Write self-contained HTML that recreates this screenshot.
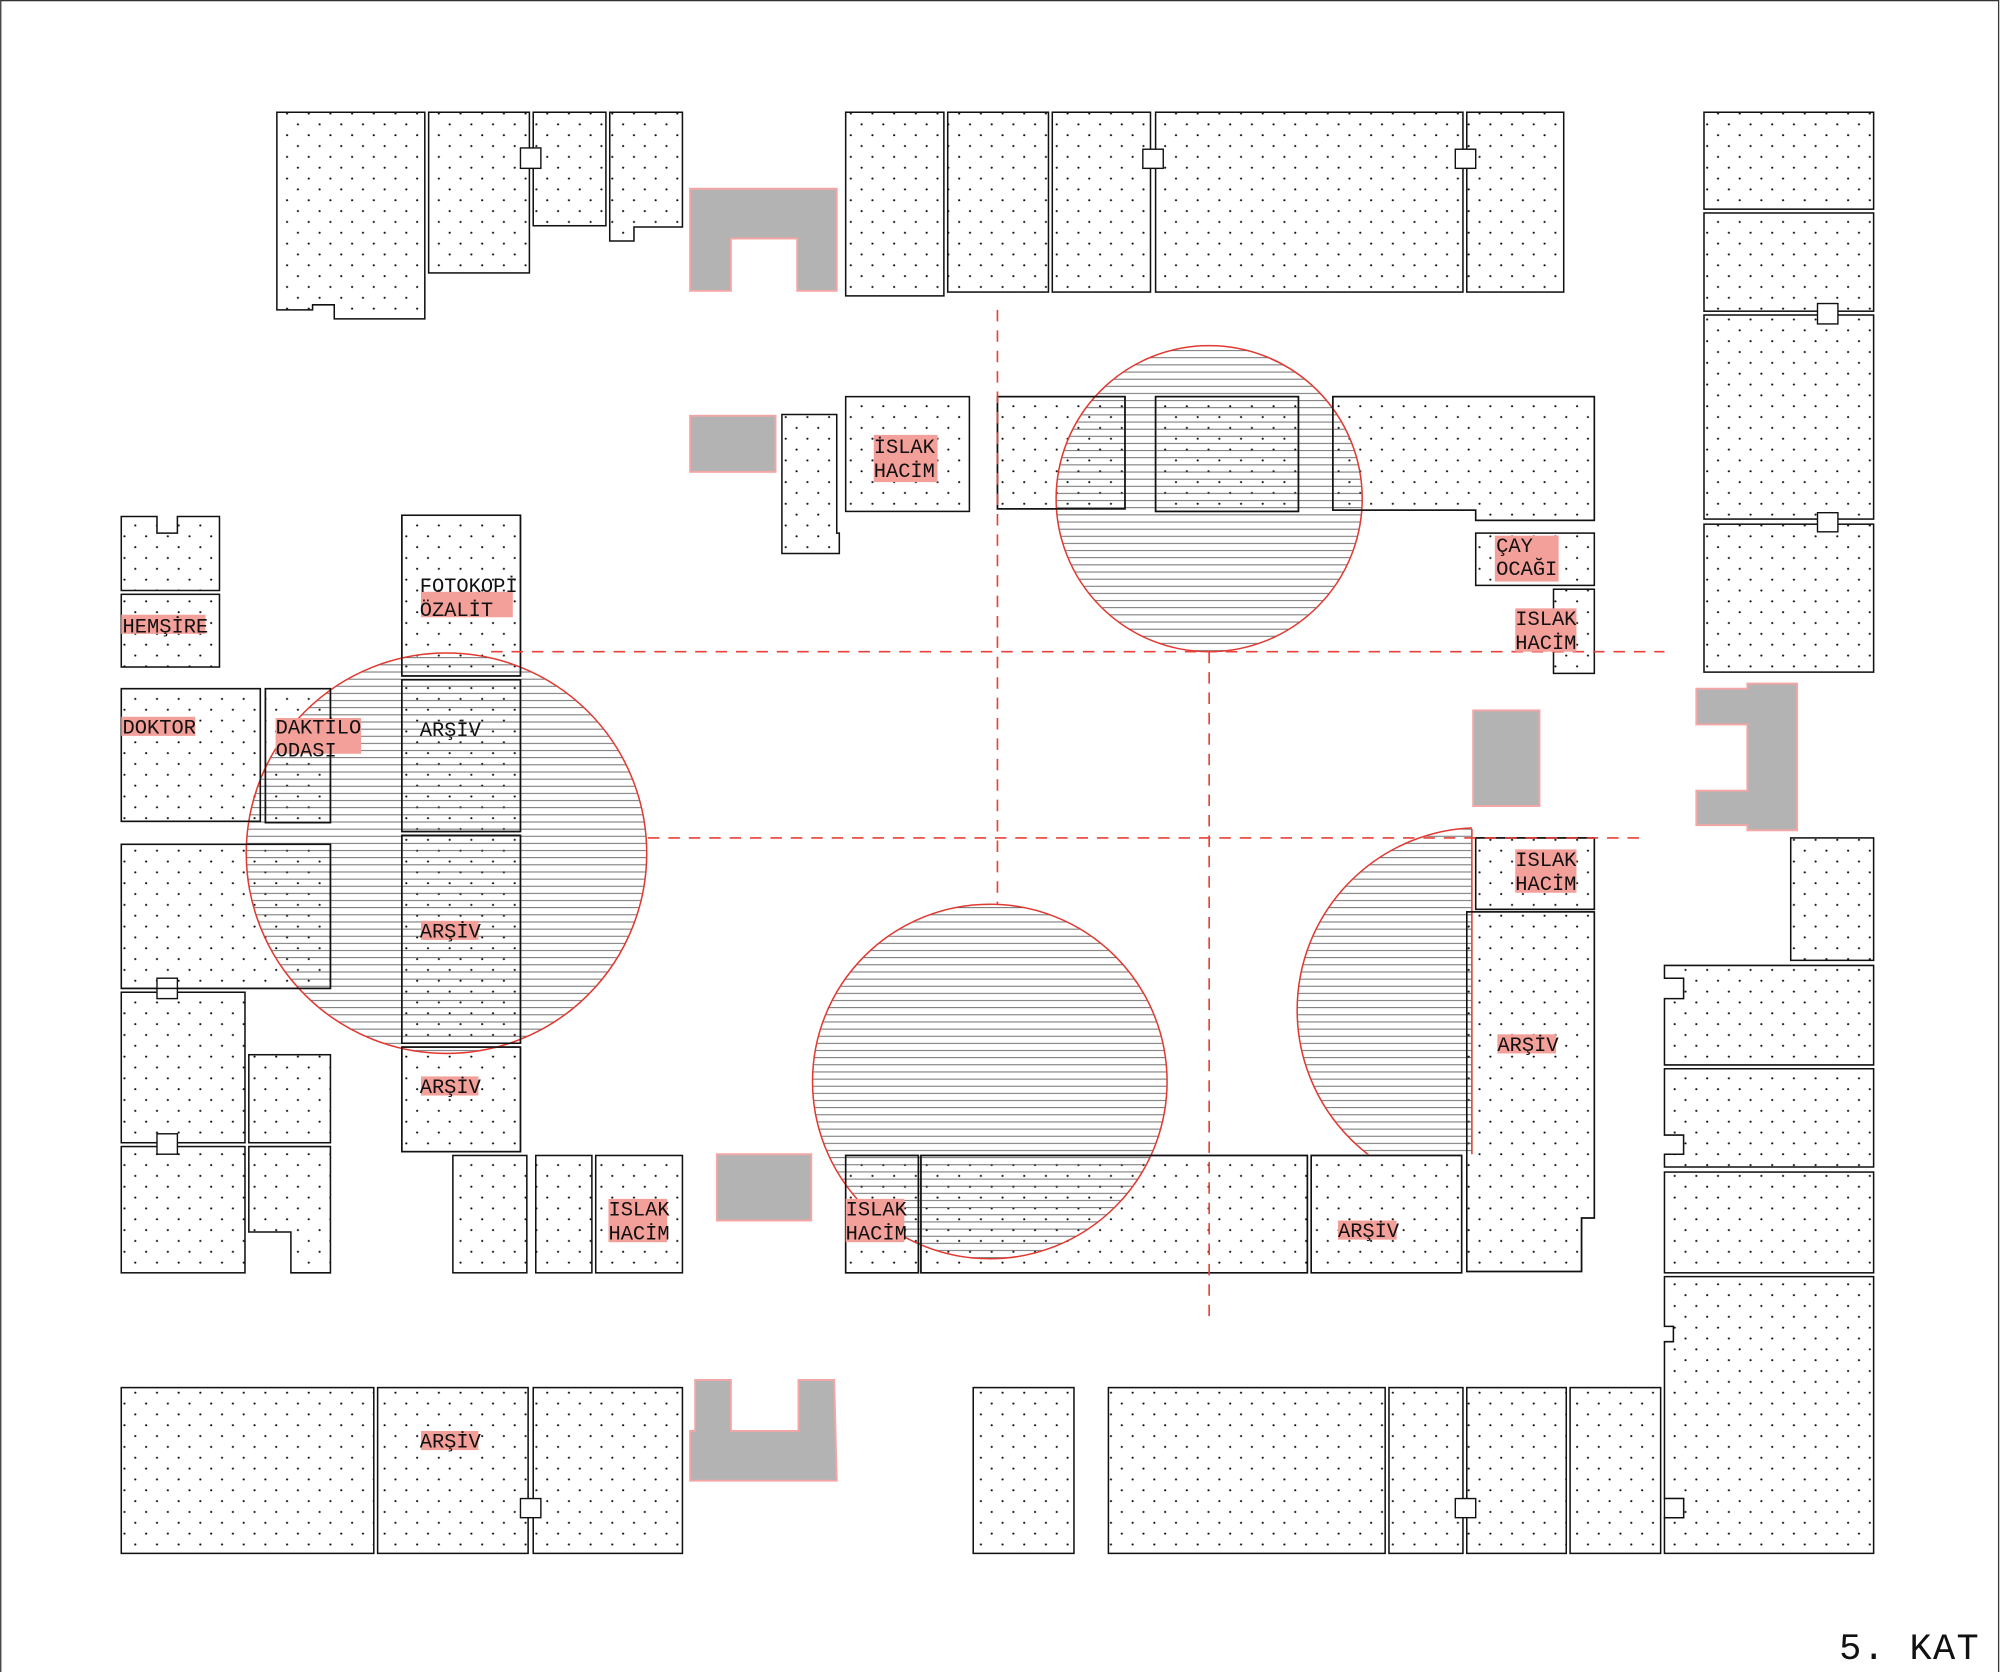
<!DOCTYPE html>
<html><head><meta charset="utf-8"><style>
html,body{margin:0;padding:0;background:#fff}
svg{display:block}
.r{fill:url(#dots);stroke:#111;stroke-width:1.2}
.g{fill:#b3b3b3;stroke:#f4a6a6;stroke-width:1.5}
.d{fill:#fff;stroke:#111;stroke-width:1.1}
.dash{stroke:#e8413a;stroke-width:1.3;stroke-dasharray:9 7;fill:none}
.hc{fill:url(#hatch);stroke:#e03a32;stroke-width:1.2}
.lb{fill:#f4a09a}
text{font-family:"Liberation Mono",monospace;font-size:16px;fill:#111}
</style></head><body>
<svg width="2000" height="1672" viewBox="0 0 1568 1311" xmlns="http://www.w3.org/2000/svg">
<defs>
<pattern id="dots" patternUnits="userSpaceOnUse" width="17" height="17">
<rect width="17" height="17" fill="#fff"/>
<circle cx="4" cy="4" r="0.85" fill="#111"/><circle cx="12.5" cy="12.5" r="0.85" fill="#111"/>
</pattern>
<pattern id="hatch" patternUnits="userSpaceOnUse" width="20" height="5.6">
<line x1="0" y1="0.5" x2="20" y2="0.5" stroke="#555" stroke-width="0.7"/>
</pattern>
<clipPath id="hc"><rect x="0" y="0" width="1154" height="905"/></clipPath>
</defs>
<rect x="0.5" y="0.5" width="1566.5" height="1320" fill="none" stroke="#333" stroke-width="1"/>

<!-- rooms -->
<polygon class="r" points="217,88 333,88 333,250 262,250 262,239 245,239 245,243 217,243"/>
<rect class="r" x="336" y="88" width="79" height="126"/>
<rect class="r" x="418" y="88" width="57" height="89"/>
<polygon class="r" points="478,88 535,88 535,178 497,178 497,189 478,189"/>
<rect class="r" x="663" y="88" width="77" height="144"/>
<rect class="r" x="743" y="88" width="79" height="141"/>
<rect class="r" x="825" y="88" width="77" height="141"/>
<rect class="r" x="906" y="88" width="241" height="141"/>
<rect class="r" x="1150" y="88" width="76" height="141"/>
<rect class="r" x="1336" y="88" width="133" height="76"/>
<rect class="r" x="1336" y="167" width="133" height="77"/>
<rect class="r" x="1336" y="247" width="133" height="160"/>
<rect class="r" x="1336" y="411" width="133" height="116"/>

<polygon class="r" points="613,325 656,325 656,418 658,418 658,434 613,434"/>
<rect class="r" x="663" y="311" width="97" height="90"/>
<rect class="r" x="782" y="311" width="100" height="88"/>
<rect class="r" x="906" y="311" width="112" height="90"/>
<polygon class="r" points="1045,311 1250,311 1250,408 1157,408 1157,400 1045,400"/>
<rect class="r" x="1157" y="418" width="93" height="41"/>
<rect class="r" x="1218" y="462" width="32" height="66"/>

<polygon class="r" points="95,405 123,405 123,418 139,418 139,405 172,405 172,463 95,463"/>
<rect class="r" x="95" y="466" width="77" height="57"/>
<rect class="r" x="315" y="404" width="93" height="126"/>
<rect class="r" x="95" y="540" width="109" height="104"/>
<rect class="r" x="208" y="540" width="51" height="105"/>
<rect class="r" x="315" y="533" width="93" height="119"/>
<rect class="r" x="315" y="655" width="93" height="163"/>
<rect class="r" x="95" y="662" width="164" height="113"/>
<rect class="r" x="95" y="778" width="97" height="118"/>
<rect class="r" x="195" y="827" width="64" height="69"/>
<rect class="r" x="95" y="899" width="97" height="99"/>
<polygon class="r" points="195,899 259,899 259,998 228,998 228,966 195,966"/>
<rect class="r" x="315" y="821" width="93" height="82"/>
<rect class="r" x="355" y="906" width="58" height="92"/>
<rect class="r" x="420" y="906" width="44" height="92"/>
<rect class="r" x="467" y="906" width="68" height="92"/>

<rect class="r" x="663" y="906" width="57" height="92"/>
<rect class="r" x="722" y="906" width="303" height="92"/>
<rect class="r" x="1028" y="906" width="118" height="92"/>
<polygon class="r" points="1150,715 1250,715 1250,955 1240,955 1240,997 1150,997"/>
<rect class="r" x="1157" y="657" width="93" height="56"/>

<rect class="r" x="1404" y="657" width="65" height="96"/>
<polygon class="r" points="1305,757 1469,757 1469,835 1305,835 1305,783 1320,783 1320,767 1305,767"/>
<polygon class="r" points="1305,838 1469,838 1469,915 1305,915 1305,905 1320,905 1320,890 1305,890"/>
<rect class="r" x="1305" y="919" width="164" height="79"/>
<polygon class="r" points="1305,1001 1469,1001 1469,1218 1305,1218 1305,1190 1320,1190 1320,1175 1305,1175 1305,1052 1312,1052 1312,1040 1305,1040"/>

<rect class="r" x="95" y="1088" width="198" height="130"/>
<rect class="r" x="296" y="1088" width="118" height="130"/>
<rect class="r" x="418" y="1088" width="117" height="130"/>
<rect class="r" x="763" y="1088" width="79" height="130"/>
<rect class="r" x="869" y="1088" width="217" height="130"/>
<rect class="r" x="1089" y="1088" width="58" height="130"/>
<rect class="r" x="1150" y="1088" width="78" height="130"/>
<rect class="r" x="1231" y="1088" width="71" height="130"/>

<!-- doors -->
<rect class="d" x="408" y="116" width="16" height="16"/>
<rect class="d" x="896" y="117" width="16" height="15"/>
<rect class="d" x="1141" y="117" width="16" height="15"/>
<rect class="d" x="1425" y="238" width="16" height="16"/>
<rect class="d" x="1425" y="402" width="16" height="15"/>
<rect class="d" x="123" y="767" width="16" height="16"/>
<rect class="d" x="123" y="889" width="16" height="16"/>
<rect class="d" x="408" y="1175" width="16" height="15"/>
<rect class="d" x="1141" y="1175" width="16" height="15"/>
<rect class="d" x="1305" y="1175" width="15" height="15"/>

<!-- gray -->
<polygon class="g" points="541,148 656,148 656,228 625,228 625,187 573,187 573,228 541,228"/>
<rect class="g" x="541" y="326" width="67" height="44"/>
<rect class="g" x="562" y="905" width="74" height="52"/>
<rect class="g" x="1155" y="557" width="52" height="75"/>
<polygon class="g" points="1330,540 1370,540 1370,536 1409,536 1409,651 1370,651 1370,647 1330,647 1330,620 1370,620 1370,568 1330,568"/>
<polygon class="g" points="545,1082 573,1082 573,1122 626,1122 626,1082 654,1082 656,1161 541,1161 541,1122 545,1122"/>

<!-- hatched circles -->
<circle class="hc" cx="948" cy="391" r="120"/>
<circle class="hc" cx="350" cy="669" r="157"/>
<circle class="hc" cx="776" cy="848" r="139"/>
<g clip-path="url(#hc)"><circle class="hc" cx="1160" cy="792" r="143"/></g>
<line x1="1154" y1="650" x2="1154" y2="905" stroke="#e03a32" stroke-width="1.2"/>

<!-- outlines redrawn over hatch -->
<g fill="none" stroke="#111" stroke-width="1.2">
<rect x="782" y="311" width="100" height="88"/>
<rect x="906" y="311" width="112" height="90"/>
<polygon points="1045,311 1250,311 1250,408 1157,408 1157,400 1045,400"/>
<rect x="315" y="404" width="93" height="126"/>
<rect x="208" y="540" width="51" height="105"/>
<rect x="95" y="540" width="109" height="104"/>
<rect x="315" y="533" width="93" height="119"/>
<rect x="315" y="655" width="93" height="163"/>
<rect x="95" y="662" width="164" height="113"/>
<rect x="315" y="821" width="93" height="82"/>
<rect x="663" y="906" width="57" height="92"/>
<rect x="722" y="906" width="303" height="92"/>
<rect x="1028" y="906" width="118" height="92"/>
<polygon points="1150,715 1250,715 1250,955 1240,955 1240,997 1150,997"/>
<rect x="1157" y="657" width="93" height="56"/>
</g>

<!-- dashed axes -->
<line class="dash" x1="782" y1="243" x2="782" y2="709"/>
<line class="dash" x1="948" y1="511" x2="948" y2="1035"/>
<line class="dash" x1="385" y1="511" x2="1305" y2="511"/>
<line class="dash" x1="508" y1="657" x2="1290" y2="657"/>

<!-- labels -->
<rect class="lb" x="685" y="341" width="50" height="37"/>
<text x="685" y="355">İSLAK</text><text x="685" y="374">HACİM</text>
<rect class="lb" x="1172" y="420" width="50" height="36"/>
<text x="1173" y="433">ÇAY</text><text x="1173" y="451">OCAĞI</text>
<rect class="lb" x="1188" y="477" width="48" height="34"/>
<text x="1188" y="490">ISLAK</text><text x="1188" y="509">HACİM</text>
<rect class="lb" x="330" y="464" width="72" height="20"/>
<text x="329" y="464">FOTOKOPİ</text><text x="329" y="483">ÖZALİT</text>
<rect class="lb" x="95" y="482" width="66" height="15"/>
<text x="96" y="496">HEMŞİRE</text>
<rect class="lb" x="95" y="562" width="58" height="15"/>
<text x="96" y="575">DOKTOR</text>
<rect class="lb" x="216" y="563" width="67" height="28"/>
<text x="216" y="575">DAKTİLO</text><text x="216" y="593">ODASI</text>
<text x="329" y="577">ARŞİV</text>
<rect class="lb" x="330" y="722" width="45" height="15"/>
<text x="329" y="735">ARŞİV</text>
<rect class="lb" x="330" y="844" width="45" height="15"/>
<text x="329" y="857">ARŞİV</text>
<rect class="lb" x="477" y="940" width="46" height="34"/>
<text x="477" y="953">ISLAK</text><text x="477" y="972">HACİM</text>
<rect class="lb" x="663" y="940" width="46" height="34"/>
<text x="663" y="953">ISLAK</text><text x="663" y="972">HACİM</text>
<rect class="lb" x="1049" y="957" width="46" height="15"/>
<text x="1049" y="970">ARŞİV</text>
<rect class="lb" x="1174" y="811" width="46" height="15"/>
<text x="1174" y="824">ARŞİV</text>
<rect class="lb" x="1188" y="666" width="48" height="34"/>
<text x="1188" y="679">ISLAK</text><text x="1188" y="698">HACİM</text>
<rect class="lb" x="330" y="1122" width="45" height="15"/>
<text x="329" y="1135">ARŞİV</text>

<text x="1442" y="1301" style="font-size:29px;letter-spacing:1px">5. KAT</text>
</svg>
</body></html>
